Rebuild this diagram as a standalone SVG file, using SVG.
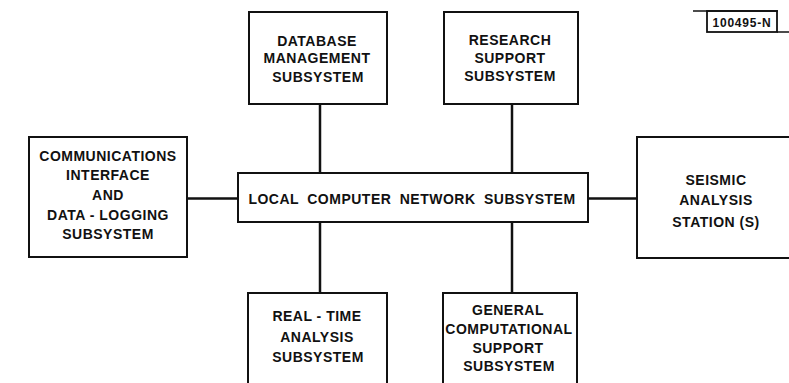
<svg xmlns="http://www.w3.org/2000/svg" width="789" height="383" viewBox="0 0 789 383">
<style>
.box{fill:#fff;stroke:#111;stroke-width:2}
.t{font-family:"Liberation Sans",Arial,sans-serif;font-weight:bold;font-size:14px;letter-spacing:0.5px;fill:#111;text-anchor:middle}
.c{stroke:#111;stroke-width:2.5;fill:none}
</style>
<rect width="789" height="383" fill="#fff"/>
<g id="connectors">
<line class="c" x1="320" y1="104" x2="320" y2="173"/>
<line class="c" x1="512" y1="104" x2="512" y2="173"/>
<line class="c" x1="320" y1="222" x2="320" y2="293"/>
<line class="c" x1="512" y1="222" x2="512" y2="293"/>
<line class="c" x1="187" y1="198.5" x2="238" y2="198.5"/>
<line class="c" x1="588" y1="198.5" x2="637" y2="198.5"/>
</g>
<g id="db">
<rect class="box" x="249" y="12" width="138" height="92"/>
<text class="t" x="317" y="45.5">DATABASE</text>
<text class="t" x="317" y="63">MANAGEMENT</text>
<text class="t" x="318" y="82">SUBSYSTEM</text>
</g>
<g id="research">
<rect class="box" x="444" y="12" width="134" height="92"/>
<text class="t" x="510" y="44.5">RESEARCH</text>
<text class="t" x="510" y="62.5">SUPPORT</text>
<text class="t" x="510" y="81">SUBSYSTEM</text>
</g>
<g id="comm">
<rect class="box" x="29" y="137" width="158" height="120"/>
<text class="t" x="108" y="161">COMMUNICATIONS</text>
<text class="t" x="108" y="180">INTERFACE</text>
<text class="t" x="108" y="200">AND</text>
<text class="t" x="108" y="220">DATA - LOGGING</text>
<text class="t" x="108" y="239">SUBSYSTEM</text>
</g>
<g id="lcn">
<rect class="box" x="238" y="173" width="350" height="49"/>
<text class="t" x="412" y="204" style="word-spacing:4px">LOCAL COMPUTER NETWORK SUBSYSTEM</text>
</g>
<g id="seismic">
<rect class="box" x="637" y="137" width="160" height="121"/>
<text class="t" x="716" y="185">SEISMIC</text>
<text class="t" x="716" y="205">ANALYSIS</text>
<text class="t" x="716" y="227">STATION (S)</text>
</g>
<g id="realtime">
<rect class="box" x="248" y="293" width="139" height="100"/>
<text class="t" x="317" y="321">REAL - TIME</text>
<text class="t" x="317" y="342">ANALYSIS</text>
<text class="t" x="318" y="362">SUBSYSTEM</text>
</g>
<g id="general">
<rect class="box" x="443" y="293" width="134" height="100"/>
<text class="t" x="508" y="315">GENERAL</text>
<text class="t" x="509" y="334">COMPUTATIONAL</text>
<text class="t" x="508" y="353">SUPPORT</text>
<text class="t" x="509" y="371">SUBSYSTEM</text>
</g>
<g id="label">
<line x1="693" y1="11" x2="778" y2="11" stroke="#111" stroke-width="1.5"/>
<rect x="707" y="11" width="70" height="21" fill="none" stroke="#111" stroke-width="1.8"/>
<line x1="777" y1="32" x2="789" y2="32" stroke="#111" stroke-width="1.5"/>
<text x="742" y="27" style="font-family:'Liberation Sans',Arial,sans-serif;font-weight:bold;font-size:12px;letter-spacing:0.8px;fill:#111;text-anchor:middle">100495-N</text>
</g>
</svg>
